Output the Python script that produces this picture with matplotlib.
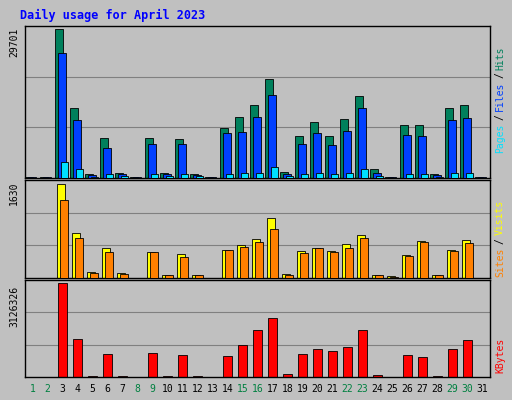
import matplotlib
matplotlib.use("Agg")
import matplotlib.pyplot as plt
import numpy as np

days = list(range(1, 32))
hits = [200,200,29701,14000,800,8000,1000,200,8000,1000,7800,800,200,10000,12200,14600,19700,1200,8400,11200,8400,11800,16400,1800,200,10600,10600,800,14000,14600,200]
files = [150,150,24900,11600,500,6000,700,150,6800,700,6800,500,150,9000,9200,12200,16600,800,6800,9000,6600,9400,14000,1000,150,8600,8400,500,11600,12000,150]
pages = [50,50,3200,1800,200,700,300,50,700,300,700,300,50,800,900,1000,2200,300,800,900,800,900,1800,300,50,700,700,200,900,900,50]
visits = [5,5,1630,770,100,520,80,5,450,60,415,60,5,490,575,680,1040,70,470,520,470,590,750,60,30,400,640,50,490,660,5]
sites = [5,5,1350,700,90,450,70,5,450,55,360,55,5,480,540,620,850,60,430,520,450,520,700,55,25,380,620,45,460,600,5]
kbytes = [5000,5000,3126326,1270000,20000,750000,20000,5000,790000,20000,720000,20000,5000,690000,1060000,1550000,1960000,100000,750000,930000,860000,1000000,1550000,70000,10000,720000,650000,20000,930000,1240000,5000]
weekend = {1,2,8,9,15,16,22,23,29,30}

W, H = 512, 400
fig = plt.figure(figsize=(W/100, H/100), dpi=100)
fig.patch.set_facecolor("#c0c0c0")
bg = "#c0c0c0"

def ax_at(x0, y0, x1, y1):
    ax = fig.add_axes([x0/W, 1-y1/H, (x1-x0)/W, (y1-y0)/H])
    ax.set_facecolor(bg)
    ax.set_xlim(0.5, 31.5)
    ax.set_xticks([])
    ax.set_yticks([])
    for s in ax.spines.values():
        s.set_color("black"); s.set_linewidth(1)
    return ax

x = np.array(days)
mono = "DejaVu Sans Mono"
fig.text(20/W, 1-15/H, "Daily usage for April 2023", color="#0000ff", fontsize=8.5, fontweight="bold", family=mono, va="center")

# top panel
a1 = ax_at(25, 26, 490, 178)
a1.set_ylim(0, max(hits)*1.02)
for g in [1/3, 2/3]:
    a1.axhline(max(hits)*1.02*g, color="#808080", lw=0.8, zorder=0)
a1.bar(x-0.22, hits, width=0.5, color="#00805c", edgecolor="black", lw=0.6, zorder=2)
a1.bar(x-0.05, files, width=0.5, color="#0040ff", edgecolor="black", lw=0.6, zorder=3)
a1.bar(x+0.12, pages, width=0.5, color="#00e0ff", edgecolor="black", lw=0.6, zorder=4)
fig.text(14/W, 1-42/H, "29701", rotation=90, fontsize=7, family=mono, va="center", ha="center")

a2 = ax_at(25, 180, 490, 278)
a2.set_ylim(0, max(visits)*1.04)
for g in [1/3, 2/3]:
    a2.axhline(max(visits)*1.04*g, color="#808080", lw=0.8, zorder=0)
a2.bar(x-0.12, visits, width=0.55, color="#ffff00", edgecolor="black", lw=0.6, zorder=2)
a2.bar(x+0.08, sites, width=0.55, color="#ff8000", edgecolor="black", lw=0.6, zorder=3)
fig.text(14/W, 1-193/H, "1630", rotation=90, fontsize=7, family=mono, va="center", ha="center")

a3 = ax_at(25, 280, 490, 377)
a3.set_ylim(0, max(kbytes)*1.03)
for g in [1/3, 2/3]:
    a3.axhline(max(kbytes)*1.03*g, color="#808080", lw=0.8, zorder=0)
a3.bar(x, kbytes, width=0.55, color="#ff0000", edgecolor="black", lw=0.6, zorder=2)
fig.text(14/W, 1-306/H, "3126326", rotation=90, fontsize=7, family=mono, va="center", ha="center")

for d in days:
    xp = 25 + (d-0.5)/31*465
    fig.text(xp/W, 1-389/H, str(d), fontsize=7, family=mono, ha="center", va="center",
             color="#008040" if d in weekend else "black")

def vlabel(parts, yc):
    s = "".join(p for p, c in parts)
    # draw parts stacked bottom->top
    n = len(s); step = 7.0
    y = yc + n*step/2
    for p, c in parts:
        L = len(p)
        fig.text(500/W, 1-(y - L*step/2)/H, p, rotation=90, fontsize=7, family=mono,
                 color=c, ha="center", va="center")
        y -= L*step

vlabel([("Pages", "#00e0ff"), ("/", "black"), ("Files", "#0040ff"), ("/", "black"), ("Hits", "#00805c")], 100)
vlabel([("Sites", "#ff8000"), ("/", "black"), ("Visits", "#ffff00")], 238)
vlabel([("KBytes", "#ff0000")], 355)

fig.savefig("out.png", dpi=100, facecolor=fig.get_facecolor())
